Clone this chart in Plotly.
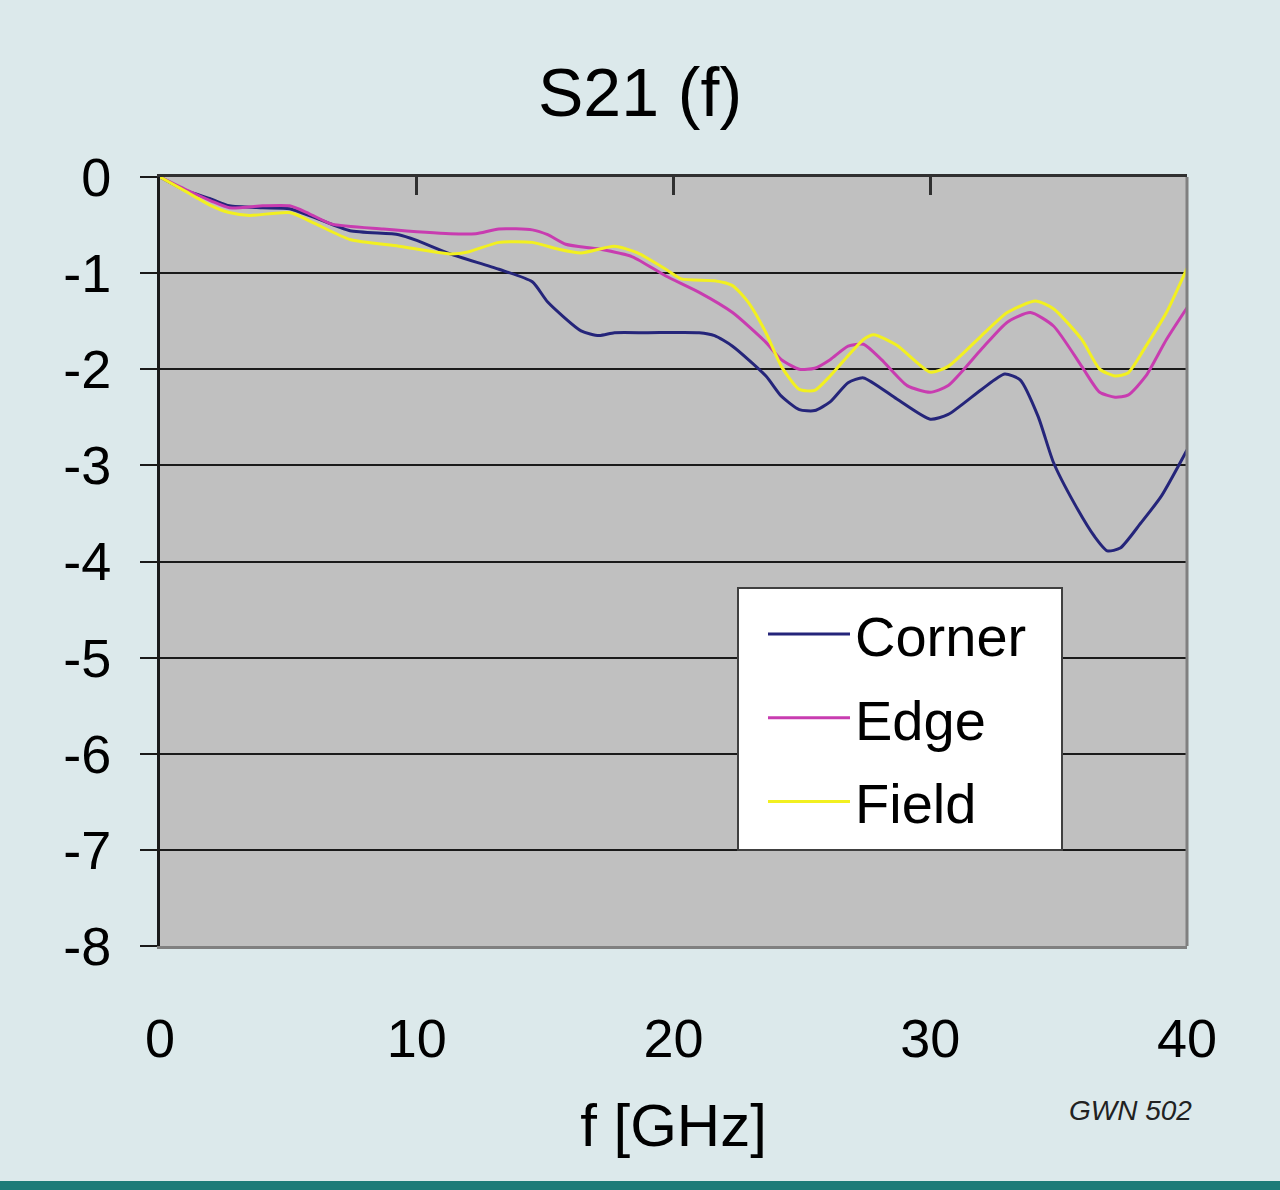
import plotly.graph_objects as go

# ---- data ----
corner_f = [0, 1, 2, 2.7, 4, 5.05, 6, 7.4, 9.3, 10, 11.3, 13.2, 14.5, 15.1, 16.4, 17.1, 17.7, 19, 21, 21.6,
            22.3, 23.6, 24.2, 24.9, 25.5, 26.1, 26.8, 27.4, 28.7, 30.0, 30.7, 32.0, 32.9, 33.5, 34.2, 34.8,
            35.6, 36.4, 36.9, 37.4, 38.2, 39.0, 40]
corner_s21 = [0, -0.14, -0.23, -0.30, -0.32, -0.33, -0.42, -0.56, -0.60, -0.66, -0.80, -0.96, -1.09, -1.30,
              -1.60, -1.65, -1.62, -1.62, -1.62, -1.65, -1.76, -2.07, -2.28, -2.42, -2.43, -2.34, -2.14,
              -2.09, -2.31, -2.52, -2.47, -2.21, -2.05, -2.11, -2.49, -2.97, -3.39, -3.74, -3.89, -3.86,
              -3.60, -3.32, -2.84]

edge_f = [0, 1, 2, 2.7, 4, 5.05, 5.8, 6.7, 8.7, 11.3, 12.3, 13.2, 14.5, 15.1, 15.8, 17.1, 18.4, 19.7, 21,
          22.3, 23.6, 24.2, 24.9, 25.5, 26.1, 26.8, 27.4, 28.1, 29.1, 30.0, 30.7, 32.0, 33.0, 33.9, 34.8,
          35.9, 36.6, 37.2, 37.7, 38.4, 39.2, 40]
edge_s21 = [0, -0.13, -0.25, -0.32, -0.30, -0.30, -0.38, -0.49, -0.54, -0.59, -0.59, -0.54, -0.55, -0.60,
            -0.70, -0.75, -0.83, -1.03, -1.20, -1.41, -1.72, -1.90, -2.00, -1.99, -1.90, -1.76, -1.74,
            -1.90, -2.17, -2.24, -2.17, -1.79, -1.51, -1.41, -1.55, -1.97, -2.24, -2.29, -2.27, -2.07,
            -1.69, -1.36]

field_f = [0, 1, 2, 2.7, 3.5, 5.05, 6, 7.4, 9.3, 11.3, 12, 13.2, 14.5, 15.5, 16.4, 17.7, 18.6, 19.7, 20.3,
           21.6, 22.3, 22.9, 23.6, 24.2, 24.9, 25.5, 26.1, 26.8, 27.4, 27.8, 28.7, 30.0, 30.7, 32.0, 33.0,
           34.1, 34.8, 35.9, 36.6, 37.2, 37.7, 38.4, 39.2, 40]
field_s21 = [0, -0.15, -0.30, -0.37, -0.40, -0.37, -0.48, -0.65, -0.72, -0.80, -0.78, -0.68, -0.68, -0.75,
             -0.79, -0.72, -0.79, -0.96, -1.06, -1.08, -1.13, -1.30, -1.62, -1.97, -2.21, -2.22, -2.07,
             -1.86, -1.69, -1.64, -1.75, -2.03, -1.97, -1.65, -1.41, -1.29, -1.37, -1.69, -2.00, -2.07,
             -2.04, -1.76, -1.41, -0.95]

x_ticks = [0, 10, 20, 30, 40]
x_tick_labels = ["0", "10", "20", "30", "40"]
y_ticks = [0, -1, -2, -3, -4, -5, -6, -7, -8]
y_tick_labels = ["0", "-1", "-2", "-3", "-4", "-5", "-6", "-7", "-8"]

FONT = "Liberation Sans, Arial, sans-serif"

# pixel geometry of the plot area (for paper-coordinate placement)
PL, PR, PT, PB = 160, 1187, 177, 946
PW, PH = PR - PL, PB - PT


def px(x):
    return (x - PL) / PW


def py(y):
    return (PB - y) / PH


fig = go.Figure()
series = [("Corner", corner_f, corner_s21, "#25257a"),
          ("Edge", edge_f, edge_s21, "#c83cb0"),
          ("Field", field_f, field_s21, "#f2f020")]
for name, fx, fy, col in series:
    fig.add_trace(go.Scatter(x=fx, y=fy, name=name, mode="lines", legendgroup=name,
                             line=dict(color=col, width=3, shape="spline", smoothing=0.6)))

# invisible trace to drive the top axis (axis line at y = 0 with inward ticks)
fig.add_trace(go.Scatter(x=[0, 40], y=[0, 0], xaxis="x2", mode="lines",
                         line=dict(width=0), showlegend=False, hoverinfo="skip"))

fig.update_layout(
    width=1280, height=1190,
    margin=dict(l=PL, r=1280 - PR, t=PT, b=1190 - PB),
    paper_bgcolor="#dce9eb",
    plot_bgcolor="#c0c0c0",
    font=dict(family=FONT, color="#000000"),
    title=dict(text="S21 (f)", x=0.5, xanchor="center", y=1 - 92 / 1190, yanchor="middle",
               font=dict(size=68, family=FONT, color="#000000")),
    xaxis=dict(range=[0, 40], tickvals=x_ticks, ticktext=x_tick_labels, showgrid=False, zeroline=False,
               showline=True, linecolor="#808080", linewidth=3, ticks="",
               tickfont=dict(size=54), ticklabelstandoff=43,
               title=dict(text="f [GHz]", font=dict(size=60), standoff=38)),
    xaxis2=dict(range=[0, 40], overlaying="x", side="top", tickvals=[10, 20, 30],
                showticklabels=False, showgrid=False, zeroline=False,
                showline=True, linecolor="#303030", linewidth=3,
                ticks="inside", ticklen=18, tickwidth=3, tickcolor="#303030"),
    yaxis=dict(range=[-8, 0], tickvals=y_ticks, ticktext=y_tick_labels, showgrid=True,
               gridcolor="#1a1a1a", gridwidth=2,
               zeroline=False, showline=True, linecolor="#1a1a1a", linewidth=3,
               ticks="outside", ticklen=17, tickwidth=2, tickcolor="#1a1a1a",
               tickfont=dict(size=54), ticklabelstandoff=18),
    legend=dict(x=px(763), y=py(591), xanchor="left", yanchor="top",
                bgcolor="rgba(0,0,0,0)", borderwidth=0,
                font=dict(size=56, family=FONT, color="#000000"),
                tracegroupgap=8, itemwidth=82),
    showlegend=True,
)

# legend frame (white box with dark border)
fig.add_shape(type="rect", xref="paper", yref="paper", x0=px(738), x1=px(1062), y0=py(850), y1=py(588),
              line=dict(color="#404040", width=2), fillcolor="#ffffff", layer="above")
# right border of the plot area (grey)
fig.add_shape(type="line", xref="paper", yref="paper", x0=1, x1=1, y0=0, y1=1,
              line=dict(color="#808080", width=3), layer="above")
# teal stripe at the bottom of the slide
fig.add_shape(type="rect", xref="paper", yref="paper", x0=-0.2, x1=1.2,
              y0=py(1181), y1=py(1200),
              line=dict(width=0), fillcolor="#1d7b78", layer="below")

fig.add_annotation(text="<i>GWN 502</i>", xref="paper", yref="paper",
                   x=px(1130), y=py(1110), xanchor="center", yanchor="middle",
                   showarrow=False, font=dict(size=28, family=FONT, color="#222222"))

fig.write_html("out.html", config={"displayModeBar": False},
               post_script="document.body.style.margin='0';document.body.style.overflow='hidden';")
